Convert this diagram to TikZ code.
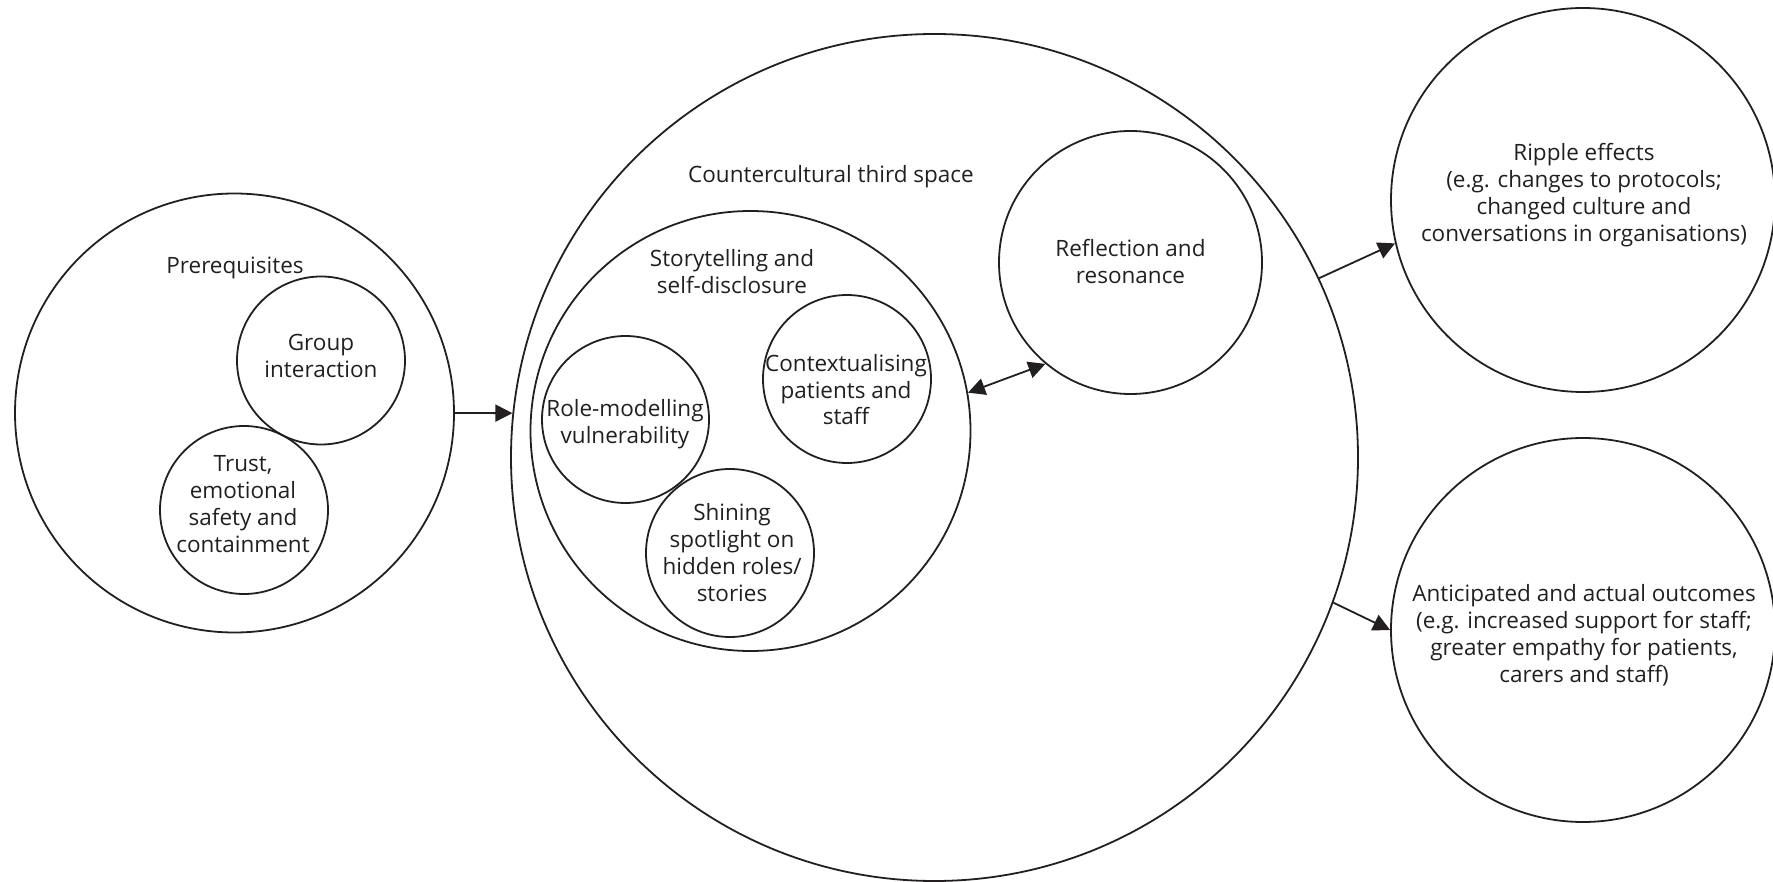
\documentclass[tikz,border=0pt]{standalone}
\usepackage{fontspec}
\setmainfont{Open Sans}
\usetikzlibrary{arrows.meta}
\definecolor{ink}{RGB}{35,31,32}
\begin{document}
\begin{tikzpicture}[x=1pt,y=-1pt,
  ring/.style={draw=ink, line width=1.8pt, circle, inner sep=0pt, minimum size=#1},
  lbl/.style={font=\fontsize{22.5}{27}\selectfont, text=ink, align=center, anchor=base, inner sep=0pt},
  conn/.style={draw=ink, line width=1.8pt, -{Triangle[length=17pt,width=17pt]}},
  twoway/.style={draw=ink, line width=1.8pt, {Triangle[length=17pt,width=17pt]}-{Triangle[length=17pt,width=17pt]}}
]
\useasboundingbox (0,0) rectangle (1773,882);
% circles
\node[ring=439pt] (prereq) at (234.5,413) {};
\node[ring=168pt] (group) at (321,360.5) {};
\node[ring=168pt] (trust) at (244,510) {};
\node[ring=847pt] (central) at (934.5,457.5) {};
\node[ring=440pt] (story) at (750.5,431) {};
\node[ring=167pt] (role) at (625.5,419.5) {};
\node[ring=168pt] (context) at (847,379) {};
\node[ring=168pt] (shine) at (730,553) {};
\node[ring=263pt] (refl) at (1130.5,262.5) {};
\node[ring=384pt] (ripple) at (1583,200) {};
\node[ring=384pt] (outcome) at (1583,630) {};
% labels (anchor = baseline of the last line)
\node[lbl] (t-prereq) at (235,274) {Prerequisites};
\node[lbl] (t-group) at (321,378) {Group\\interaction};
\node[lbl] (t-trust) at (243,552) {Trust,\\emotional\\safety and\\containment};
\node[lbl] (t-central) at (831,183) {Countercultural third space};
\node[lbl] (t-story) at (732,294) {Storytelling and\\self-disclosure};
\node[lbl] (t-role) at (625,444) {Role-modelling\\vulnerability};
\node[lbl] (t-context) at (846,425) {Contextualising\\patients and\\staff};
\node[lbl] (t-shine) at (732,601) {Shining\\spotlight on\\hidden roles/\\stories};
\node[lbl] (t-refl) at (1130.5,284) {Reflection and\\resonance};
\node[lbl] (t-ripple) at (1584,242) {Ripple effects\\(e.g. changes to protocols;\\changed culture and\\conversations in organisations)};
\node[lbl] (t-outcome) at (1584,682) {Anticipated and actual outcomes\\(e.g. increased support for staff;\\greater empathy for patients,\\carers and staff)};
% connectors
\draw[conn] (prereq.east) -- (central.174);
\draw[twoway] (story.10) -- (refl.230);
\draw[conn] (central.25) -- (ripple.193);
\draw[conn] (central.340) -- (outcome.180);
\end{tikzpicture}
\end{document}
